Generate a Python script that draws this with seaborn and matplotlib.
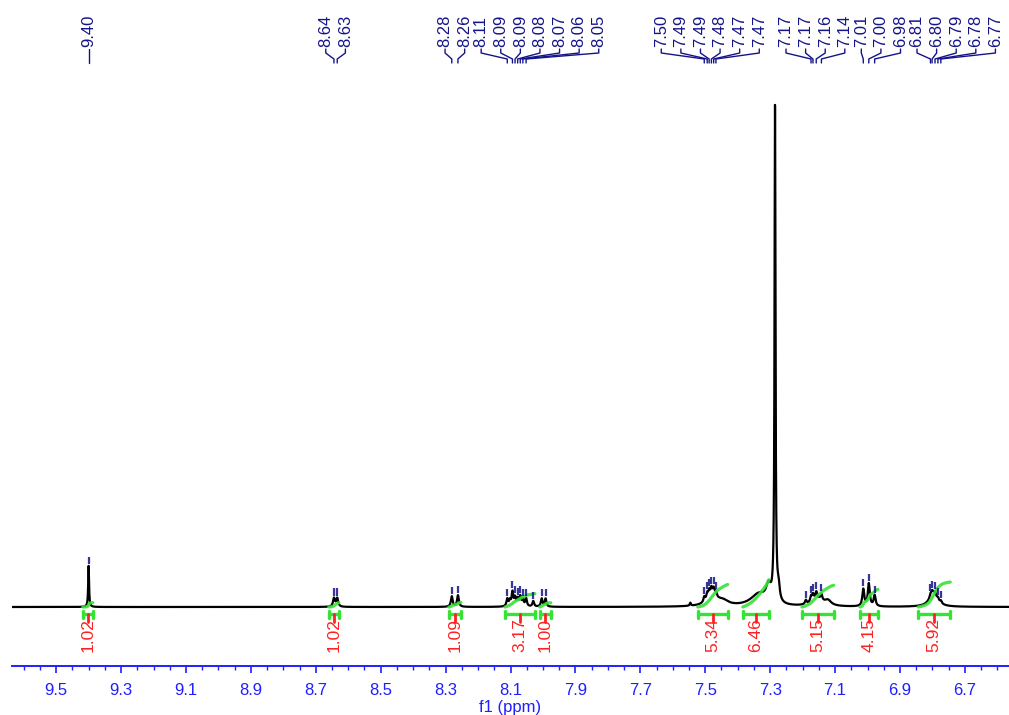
import numpy as np
import pandas as pd
import matplotlib
matplotlib.use("Agg")
import matplotlib.pyplot as plt
from matplotlib.ticker import FixedLocator
import seaborn as sns

# ---------------- spectrum lines: position (ppm), amplitude, half-width (ppm) -------------
line_ppm = [
    9.400,
    8.644, 8.634,
    8.281, 8.262,
    8.110, 8.102, 8.094, 8.086, 8.078, 8.070, 8.062, 8.052, 8.030,
    8.004, 7.992,
    7.546,
    7.503, 7.494, 7.488, 7.481, 7.474, 7.467, 7.478, 7.445,
    7.335, 7.305, 7.285, 7.274,
    7.190, 7.174, 7.168, 7.158, 7.142, 7.155, 7.122,
    7.013, 6.996, 6.978,
    6.806, 6.801, 6.792, 6.783, 6.774, 6.797,
]
line_amp = [
    8.2,
    1.7, 1.7,
    2.1, 2.3,
    1.5, 1.1, 2.8, 1.6, 1.4, 1.9, 1.3, 1.6, 1.1,
    1.6, 1.6,
    0.6,
    1.0, 1.2, 1.3, 1.4, 1.3, 0.8, 2.0, 0.9,
    2.4, 3.2, 98.5, 2.8,
    0.8, 1.1, 1.2, 1.3, 1.2, 1.5, 1.0,
    3.4, 4.5, 2.2,
    0.6, 0.7, 0.6, 0.5, 0.5, 2.6,
]
line_hwhm = [
    0.0016,
    0.0035, 0.0035,
    0.0032, 0.0032,
    0.0030, 0.0030, 0.0030, 0.0030, 0.0030, 0.0030, 0.0030, 0.0030, 0.0030,
    0.0030, 0.0030,
    0.0020,
    0.0030, 0.0030, 0.0030, 0.0030, 0.0030, 0.0030, 0.0200, 0.0200,
    0.0300, 0.0090, 0.0018, 0.0040,
    0.0030, 0.0030, 0.0030, 0.0030, 0.0030, 0.0200, 0.0120,
    0.0035, 0.0035, 0.0035,
    0.0030, 0.0030, 0.0030, 0.0030, 0.0030, 0.0150,
]

# ---------------- picked peaks (labelled) and extra picked peaks (unlabelled) ---------------
pick_ppm = [
    9.400,
    8.644, 8.634,
    8.281, 8.262,
    8.110, 8.094, 8.086, 8.078, 8.070, 8.062, 8.052,
    7.503, 7.494, 7.488, 7.481, 7.474, 7.467,
    7.174, 7.168, 7.158, 7.142,
    7.013, 6.996, 6.978,
    6.806, 6.801, 6.792, 6.783, 6.774,
]
extra_pick_ppm = [8.030, 8.004, 7.992, 7.190]

# ---------------- integrals ----------------
integral_start = [9.418, 8.660, 8.290, 8.117, 8.010, 7.523, 7.384, 7.202, 7.023, 6.844]
integral_end = [9.387, 8.629, 8.253, 8.025, 7.976, 7.431, 7.304, 7.104, 6.968, 6.745]
integral_value = [1.02, 1.02, 1.09, 3.17, 1.00, 5.34, 6.46, 5.15, 4.15, 5.92]

# ---------------- axis ----------------
tick_values = [9.5, 9.3, 9.1, 8.9, 8.7, 8.5, 8.3, 8.1, 7.9, 7.7, 7.5, 7.3, 7.1, 6.9, 6.7]
x_label = "f1 (ppm)"

# ---------------------------------------------------------------------------
sns.set_theme(style="white")
plt.rcParams["font.family"] = ["Liberation Sans", "DejaVu Sans"]

BLUE = "#1f1fff"
NAVY = "#14148a"
GREEN = "#35e335"
RED = "#ff2020"

W, H = 1009, 715
fig = plt.figure(figsize=(W / 100, H / 100), dpi=100)
ax_left, ax_right, ax_bottom_px = 11.7, 1009.0, 666.0
ax = fig.add_axes([ax_left / W, (H - ax_bottom_px) / H, (ax_right - ax_left) / W, ax_bottom_px / H])

XLIM = (9.637, 6.564)
# baseline sits 59 px above the axis line; 5.02 px per intensity unit
Y_PER_PX = 1 / 5.02
YLIM = (-59 * Y_PER_PX, (ax_bottom_px - 59) * Y_PER_PX)
ax.set_xlim(*XLIM)
ax.set_ylim(*YLIM)
ppm_per_px = (XLIM[0] - XLIM[1]) / (ax_right - ax_left)

# synthesize the spectrum from its Lorentzian lines
x = np.linspace(XLIM[0], XLIM[1], 16000)
p = np.asarray(line_ppm)[:, None]
a = np.asarray(line_amp)[:, None]
g = np.asarray(line_hwhm)[:, None]


def spectrum(xx):
    xx = np.atleast_1d(xx)[None, :]
    return (a * g ** 2 / ((xx - p) ** 2 + g ** 2)).sum(axis=0)


y = spectrum(x)
spec = pd.DataFrame({"ppm": x, "intensity": y})

# integral curves (cumulative area, scaled to the integral value)
CURVE_SCALE = 0.84
for s, e, v in zip(integral_start, integral_end, integral_value):
    xs = np.linspace(s, e, 400)
    ys = spectrum(xs)
    cum = np.concatenate([[0], np.cumsum((ys[1:] + ys[:-1]) / 2)])
    cum = cum / cum[-1] * v * CURVE_SCALE
    sns.lineplot(x=xs, y=cum, ax=ax, color=GREEN, lw=2.3, alpha=0.9,
                 estimator=None, sort=False, zorder=4)

sns.lineplot(data=spec, x="ppm", y="intensity", ax=ax, color="black", lw=1.6,
             estimator=None, sort=False, zorder=3)

# peak markers above each picked peak
for pk in list(pick_ppm) + list(extra_pick_ppm):
    top = spectrum(pk)[0]
    ax.plot([pk, pk], [top + 0.4, top + 1.8], color=NAVY, lw=1.6, alpha=0.85,
            solid_capstyle="butt", zorder=5)

# integral bars and labels
BAR_Y = -7 * Y_PER_PX
CAP = 3.5 * Y_PER_PX
for s, e, v in zip(integral_start, integral_end, integral_value):
    ax.plot([s, e], [BAR_Y, BAR_Y], color=GREEN, lw=2.4, solid_capstyle="butt", zorder=4)
    for xe in (s, e):
        ax.plot([xe, xe], [BAR_Y - CAP, BAR_Y + CAP], color=GREEN, lw=2.4, zorder=4)
    mid = (s + e) / 2
    ax.plot([mid, mid], [BAR_Y, BAR_Y - 8 * Y_PER_PX], color=RED, lw=2.0, zorder=4)
    ax.text(mid, BAR_Y - 4 * Y_PER_PX, f"{v:.2f}", rotation=90, ha="center", va="top",
            color=RED, fontsize=12.5, zorder=6)

# peak labels along the top: centred groups, pushed right to avoid overlap
SPACING = 19.6 * ppm_per_px
GAP = 16.5 * ppm_per_px
picks = sorted(pick_ppm, reverse=True)
groups = [[picks[0]]]
for pk in picks[1:]:
    if groups[-1][-1] - pk < SPACING:
        groups[-1].append(pk)
    else:
        groups.append([pk])

label_pos = []
prev_last = None
for grp in groups:
    n = len(grp)
    centre = np.mean(grp)
    pos = [centre + ((n - 1) / 2 - i) * SPACING for i in range(n)]
    if prev_last is not None and pos[0] > prev_last - GAP:
        shift = pos[0] - (prev_last - GAP)
        pos = [q - shift for q in pos]
    prev_last = pos[-1]
    label_pos.extend(zip(grp, pos))

Y_TXT = (607 - 47) * Y_PER_PX
Y_L1 = (607 - 49) * Y_PER_PX
Y_L2 = (607 - 53) * Y_PER_PX
Y_L3 = (607 - 59) * Y_PER_PX
Y_L4 = (607 - 63) * Y_PER_PX
for pk, lx in label_pos:
    ax.plot([lx, lx, pk, pk], [Y_L1, Y_L2, Y_L3, Y_L4], color=NAVY, lw=1.0, zorder=5)
    ax.text(lx, Y_TXT, f"{pk:.2f}", rotation=90, ha="center", va="bottom",
            color=NAVY, fontsize=12, zorder=6)

# axis styling
for side in ("top", "left", "right"):
    ax.spines[side].set_visible(False)
ax.spines["bottom"].set_color(BLUE)
ax.spines["bottom"].set_linewidth(1.4)
ax.set_yticks([])
ax.set_ylabel("")
ax.xaxis.set_major_locator(FixedLocator(tick_values))
ax.set_xticklabels([f"{t:.1f}" for t in tick_values])
minor = np.round(np.arange(6.6, 9.65, 0.05), 2)
ax.xaxis.set_minor_locator(FixedLocator(minor))
ax.tick_params(axis="x", which="major", direction="out", length=5, width=1.2,
               color=BLUE, labelcolor=BLUE, labelsize=12, pad=7.3, bottom=True)
ax.tick_params(axis="x", which="minor", direction="out", length=3, width=1.0,
               color=BLUE, bottom=True)
ax.set_xlabel(x_label, color=BLUE, fontsize=12, labelpad=1.5)
ax.patch.set_alpha(0)

fig.savefig("out.png", dpi=100)
